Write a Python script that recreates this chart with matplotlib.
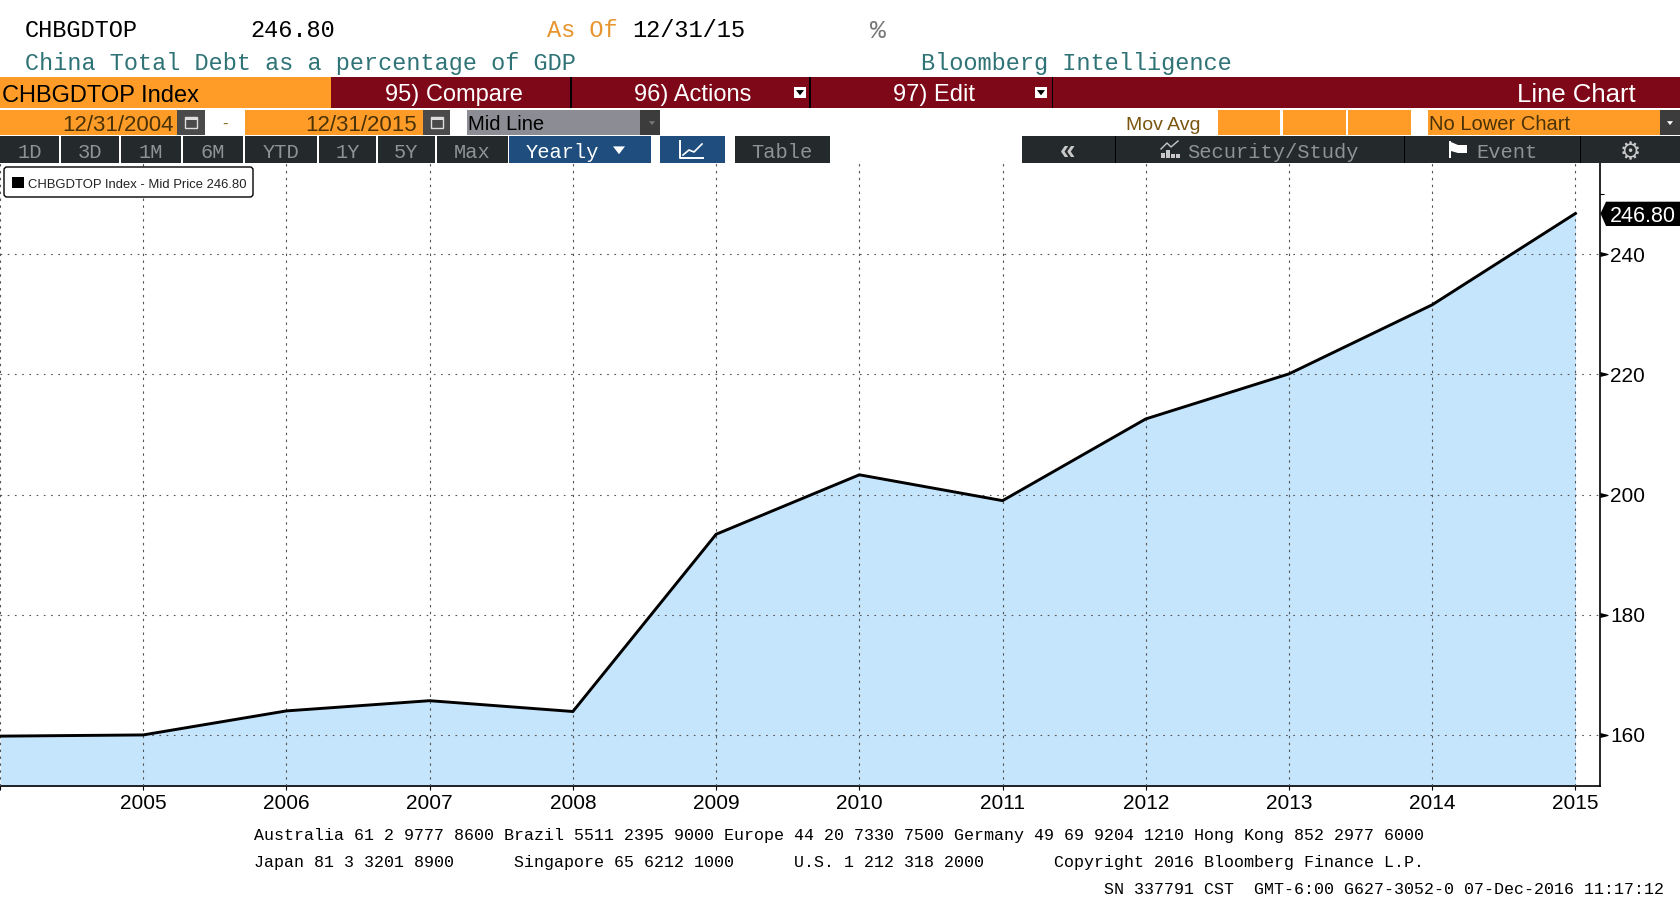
# Bloomberg style line chart of China total debt / GDP
import matplotlib
matplotlib.use("Agg")
import matplotlib.pyplot as plt
from matplotlib.patches import Rectangle, FancyBboxPatch, Polygon

W, H = 1680, 921

# Data
years = [2004, 2005, 2006, 2007, 2008, 2009, 2010, 2011, 2012, 2013, 2014, 2015]
debt_pct = [159.8, 160.0, 164.0, 165.7, 163.9, 193.4, 203.3, 199.0, 212.6, 220.1, 231.6, 246.8]
y_ticks = [160, 180, 200, 220, 240]
y_minor = [250]
x_tick_years = years[1:]
range_buttons = ["1D", "3D", "1M", "6M", "YTD", "1Y", "5Y", "Max"]

ORANGE = "#FF9C27"
RED = "#7E0718"
TEAL = "#2F7377"
DARK = "#24292B"
BLUE = "#1F4E7E"
GREY = "#8C8C94"
FILL = "#C5E5FD"
BTN_TEXT = "#8E9494"

MONO = ["Liberation Mono", "DejaVu Sans Mono"]
SANS = ["Liberation Sans", "DejaVu Sans"]

fig = plt.figure(figsize=(W / 100, H / 100), dpi=100, facecolor="white")

# Main chart, placed by pixel position
left, right, top, bottom = 0, 1599.5, 163, 786.3
ax = fig.add_axes([left / W, 1 - bottom / H, (right - left) / W, (bottom - top) / H])
ax.fill_between(years, debt_pct, 100, color=FILL, lw=0, zorder=1)
ax.plot(years, debt_pct, color="black", lw=2.1, solid_joinstyle="miter", zorder=3)
ax.set_xlim(2004, 2015.168)
ax.set_ylim(151.45, 255.2)

ax.set_xticks([2004] + x_tick_years)
ax.set_xticklabels([""] + [str(y) for y in x_tick_years], fontfamily=SANS, fontsize=15)
ax.yaxis.tick_right()
ax.set_yticks(y_ticks)
ax.set_yticks(y_minor, minor=True)
ax.set_yticklabels([str(v) for v in y_ticks], fontfamily=SANS, fontsize=15)
ax.tick_params(axis="x", length=3, width=0.8, pad=2.5)
ax.tick_params(axis="y", length=4, width=0.8, pad=3.6)
ax.tick_params(axis="y", which="minor", length=3, width=0.8)
# ticks on the price axis are little arrowheads
for tick in ax.yaxis.get_major_ticks():
    tick.tick2line.set_marker([(0, -0.5), (2, 0), (0, 0.5)])
    tick.tick2line.set_markersize(10.8)
    tick.tick2line.set_markerfacecolor("black")
ax.xaxis.grid(True, color="#555555", lw=0.8, ls=(0, (2.2, 4)), zorder=2)
ax.yaxis.grid(True, color="#555555", lw=0.8, ls=(0, (1.5, 5)), zorder=2)
ax.set_axisbelow(False)
for line in ax.get_xgridlines() + ax.get_ygridlines():
    line.set_zorder(2)
ax.spines["top"].set_visible(False)
ax.spines["left"].set_visible(False)
ax.spines["right"].set_linewidth(1.2)
ax.spines["bottom"].set_linewidth(1.2)

# Overlay for terminal chrome, in pixel coordinates
ui = fig.add_axes([0, 0, 1, 1], facecolor="none")
ui.set_xlim(0, W)
ui.set_ylim(H, 0)
ui.axis("off")


def box(x0, y0, x1, y1, color):
    ui.add_patch(Rectangle((x0, y0), x1 - x0, y1 - y0, fc=color, ec="none"))


def label(x, y, s, color="black", size=15, family=MONO, ha="left", weight="normal"):
    ui.text(x, y, s, color=color, fontsize=size, fontfamily=family, ha=ha, va="center_baseline", fontweight=weight)


def arrow(cx, cy, size, color="white"):
    ui.add_patch(Polygon([(cx - size, cy - size * 0.6), (cx + size, cy - size * 0.6), (cx, cy + size * 0.7)],
                         fc=color, ec="none"))


def calendar(x0, x1):
    box(x0, 110, x1, 135.5, "#4A4A4A")
    cx = (x0 + x1) / 2
    ui.add_patch(Rectangle((cx - 6, 117), 12, 11, fc="none", ec="#DDDDDD", lw=1))
    box(cx - 6, 117, cx + 6, 120, "#DDDDDD")


# Header text
label(25, 28, "CHBGDTOP", size=17)
label(250, 28, "246.80", size=17)
label(547, 28, "As Of", color="#E8952F", size=17)
label(632, 28, "12/31/15", size=17)
label(878, 29, "%", color="#777777", size=19, ha="center")
label(25, 61, "China Total Debt as a percentage of GDP", color=TEAL, size=16.9)
label(921, 61, "Bloomberg Intelligence", color=TEAL, size=17)

# Row 1: title bar
box(0, 77, 331, 108, ORANGE)
box(331, 77, W, 108, RED)
for x in (570, 809, 1051.5):
    box(x, 77, x + 1.5, 108, "black")
label(2, 93, "CHBGDTOP Index", size=17, family=SANS)
label(385, 93, "95) Compare", color="white", size=17, family=SANS)
label(634, 93, "96) Actions", color="white", size=17, family=SANS)
label(893, 93, "97) Edit", color="white", size=17, family=SANS)
label(1636, 93, "Line Chart", color="white", size=18.5, family=SANS, ha="right")
for x in (800, 1041):
    box(x - 6, 87, x + 6, 98, "white")
    arrow(x, 92.5, 4, color="black")

# Row 2: dates and pulldowns
box(0, 110, 177, 135.5, ORANGE)
calendar(177, 205)
label(225, 123, "-", color="#8A6A20", size=12, family=SANS, ha="center")
box(245, 110, 423, 135.5, ORANGE)
calendar(423, 450)
label(174, 123, "12/31/2004", color="#4A3208", size=16, family=SANS, ha="right")
label(417, 123, "12/31/2015", color="#4A3208", size=16, family=SANS, ha="right")
box(467, 110, 640, 135.5, GREY)
box(640, 110, 660, 135.5, "#3C3C3C")
arrow(652, 123, 3, color="#777777")
label(468, 123, "Mid Line", size=14.5, family=SANS)
label(1126, 123, "Mov Avg", color="#7A5510", size=14, family=SANS)
for x0, x1 in ((1217.5, 1280), (1282.5, 1345.5), (1348, 1411), (1427.5, 1659.5)):
    box(x0, 110, x1, 135.5, ORANGE)
label(1429, 123, "No Lower Chart", color="#4A3208", size=14.5, family=SANS)
box(1660, 110, W, 135.5, "#3C3C3C")
arrow(1670, 123, 3, color="white")

# Row 3: range buttons
btn_edges = [(0, 59), (60.5, 119), (120.5, 181), (182.6, 243),
             (244.8, 317), (318.7, 376), (377.6, 435), (436.5, 508)]
for (x0, x1), name in zip(btn_edges, range_buttons):
    box(x0, 136.3, x1, 162.7, DARK)
    label((x0 + x1) / 2, 151, name, color=BTN_TEXT, size=14.7, ha="center")
box(509.4, 136.3, 651, 162.7, BLUE)
label(526, 151, "Yearly", color="white", size=14.7)
arrow(619, 150, 6)
box(660.4, 136.3, 724.7, 162.7, BLUE)
ui.plot([680, 680, 703], [141, 158, 158], color="white", lw=1.4)
ui.plot([683, 689, 694, 702], [155, 150, 152, 144], color="white", lw=1.2)
box(734.9, 136.3, 830, 162.7, DARK)
label(782, 151, "Table", color=BTN_TEXT, size=14.7, ha="center")

box(1022, 136.3, W, 162.7, DARK)
for x in (1114.8, 1404, 1579.7):
    box(x, 136.3, x + 1.2, 162.7, "black")
label(1067, 149, "\u00ab", color="#C8C8C8", size=20, family=SANS, ha="center", weight="bold")
label(1187, 151, "Security/Study", color=BTN_TEXT, size=14.7)
for x, h in ((1161, 5), (1166, 8), (1171, 4), (1176, 4)):
    box(x, 158 - h, x + 3.5, 158, "#C8C8C8")
ui.plot([1161, 1167, 1171, 1178], [149, 143, 147, 141], color="#C8C8C8", lw=1)
# flag icon
box(1449, 141, 1451, 158, "white")
ui.add_patch(Polygon([(1451, 142), (1458, 145), (1467, 145), (1467, 153), (1458, 153), (1451, 151)], fc="white", ec="none"))
label(1476.5, 151, "Event", color=BTN_TEXT, size=14.7)
label(1630, 150, "\u2699", color="#C8C8C8", size=17, family=["DejaVu Sans"], ha="center")

# Legend box
ui.add_patch(FancyBboxPatch((5.5, 168.5), 246, 27, boxstyle="round,pad=1.5,rounding_size=3",
                            fc="white", ec="black", lw=1))
box(12, 177, 24, 188, "black")
label(28, 183, "CHBGDTOP Index - Mid Price 246.80", color="#222222", size=9.4, family=SANS)

# Last value tag
ui.add_patch(Polygon([(1600.5, 213.5), (1606, 201.7), (W, 201.7), (W, 226), (1606, 226)], fc="black", ec="none"))
label(1610, 213.5, "246.80", color="white", size=15.5, family=SANS)

# Footer
label(254, 834, "Australia 61 2 9777 8600 Brazil 5511 2395 9000 Europe 44 20 7330 7500 "
                "Germany 49 69 9204 1210 Hong Kong 852 2977 6000", size=12)
label(254, 861, "Japan 81 3 3201 8900", size=12)
label(514, 861, "Singapore 65 6212 1000", size=12)
label(794, 861, "U.S. 1 212 318 2000", size=12)
label(1054, 861, "Copyright 2016 Bloomberg Finance L.P.", size=12)
label(1103.5, 888, "SN 337791 CST  GMT-6:00 G627-3052-0 07-Dec-2016 11:17:12", size=12)

fig.savefig("out.png", dpi=100)
